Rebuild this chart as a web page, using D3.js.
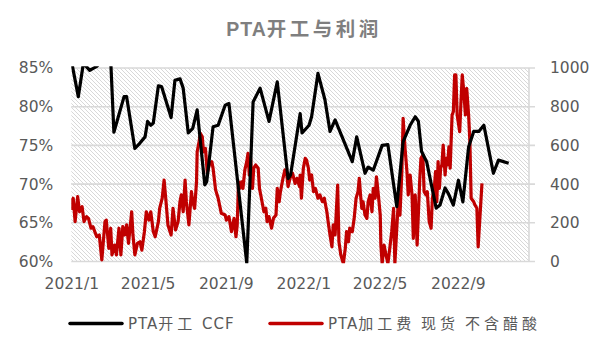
<!DOCTYPE html>
<html><head><meta charset="utf-8">
<script src="https://cdn.jsdelivr.net/npm/d3@7/dist/d3.min.js"></script>
<style>
html,body{margin:0;padding:0;background:#fff;}
svg{display:block;}
</style></head>
<body>
<svg id="c" width="612" height="353"></svg>
<script>
// ---- data ----
const opDates = ["2021-01-01","2021-01-12","2021-01-20","2021-01-30","2021-02-10","2021-02-24","2021-03-04","2021-03-09","2021-03-25","2021-03-29","2021-04-11","2021-04-19","2021-04-27","2021-05-01","2021-05-06","2021-05-10","2021-05-18","2021-05-23","2021-06-07","2021-06-13","2021-06-21","2021-06-26","2021-07-04","2021-07-11","2021-07-18","2021-07-30","2021-08-02","2021-08-12","2021-08-20","2021-08-31","2021-09-06","2021-10-04","2021-10-14","2021-10-25","2021-11-08","2021-11-21","2021-12-08","2021-12-12","2021-12-27","2021-12-30","2022-01-10","2022-01-14","2022-01-24","2022-02-04","2022-02-12","2022-02-20","2022-03-19","2022-03-26","2022-04-08","2022-04-13","2022-04-21","2022-05-05","2022-05-14","2022-05-28","2022-06-07","2022-06-18","2022-06-26","2022-07-01","2022-07-06","2022-07-14","2022-07-29","2022-08-04","2022-08-12","2022-08-17","2022-08-25","2022-09-02","2022-09-09","2022-09-18","2022-09-26","2022-10-04","2022-10-12","2022-10-27","2022-11-04","2022-11-20"];
const opValues = [86.0,81.3,85.6,84.7,85.2,86.5,86.0,76.7,81.3,81.3,74.6,75.3,76.1,78.1,77.6,77.9,82.7,82.6,78.6,83.4,83.6,82.4,76.6,77.2,79.6,69.9,70.3,77.4,77.6,80.2,80.4,59.8,80.6,82.4,78.1,83.2,70.7,71.2,79.1,76.6,77.6,78.7,84.3,80.9,76.8,78.3,72.9,76.1,71.4,72.2,71.8,75.0,75.1,67.1,75.5,77.6,78.7,78.1,74.2,72.9,66.9,67.3,69.5,68.8,67.3,70.5,67.7,74.8,76.8,76.8,77.6,71.4,73.1,72.7];

const feeDates = ["2021-01-01","2021-01-02","2021-01-04","2021-01-07","2021-01-11","2021-01-14","2021-01-18","2021-01-21","2021-01-25","2021-01-28","2021-02-01","2021-02-04","2021-02-10","2021-02-14","2021-02-18","2021-02-23","2021-02-25","2021-03-01","2021-03-04","2021-03-06","2021-03-10","2021-03-13","2021-03-17","2021-03-20","2021-03-23","2021-03-26","2021-03-29","2021-04-01","2021-04-06","2021-04-08","2021-04-11","2021-04-15","2021-04-19","2021-04-22","2021-04-26","2021-04-29","2021-05-03","2021-05-06","2021-05-10","2021-05-13","2021-05-18","2021-05-20","2021-05-24","2021-05-27","2021-05-30","2021-06-02","2021-06-07","2021-06-10","2021-06-14","2021-06-18","2021-06-21","2021-06-23","2021-06-26","2021-06-29","2021-07-01","2021-07-05","2021-07-09","2021-07-11","2021-07-14","2021-07-17","2021-07-18","2021-07-21","2021-07-23","2021-07-26","2021-07-28","2021-07-31","2021-08-03","2021-08-06","2021-08-10","2021-08-12","2021-08-16","2021-08-20","2021-08-25","2021-08-31","2021-09-02","2021-09-06","2021-09-10","2021-09-14","2021-09-17","2021-09-19","2021-09-21","2021-09-23","2021-09-26","2021-09-28","2021-10-01","2021-10-04","2021-10-06","2021-10-08","2021-10-10","2021-10-13","2021-10-15","2021-10-18","2021-10-22","2021-10-24","2021-10-27","2021-10-31","2021-11-03","2021-11-05","2021-11-08","2021-11-12","2021-11-15","2021-11-19","2021-11-21","2021-11-24","2021-11-26","2021-11-30","2021-12-03","2021-12-06","2021-12-08","2021-12-11","2021-12-15","2021-12-19","2021-12-22","2021-12-26","2021-12-27","2021-12-29","2022-01-01","2022-01-04","2022-01-06","2022-01-09","2022-01-11","2022-01-14","2022-01-17","2022-01-20","2022-01-24","2022-01-27","2022-01-31","2022-02-03","2022-02-07","2022-02-09","2022-02-12","2022-02-15","2022-02-17","2022-02-20","2022-02-24","2022-02-26","2022-03-01","2022-03-05","2022-03-08","2022-03-10","2022-03-13","2022-03-15","2022-03-19","2022-03-22","2022-03-25","2022-03-28","2022-03-30","2022-04-01","2022-04-03","2022-04-05","2022-04-08","2022-04-11","2022-04-13","2022-04-16","2022-04-19","2022-04-21","2022-04-24","2022-04-26","2022-04-29","2022-05-02","2022-05-03","2022-05-05","2022-05-08","2022-05-11","2022-05-14","2022-05-17","2022-05-20","2022-05-23","2022-05-25","2022-05-28","2022-05-31","2022-06-02","2022-06-05","2022-06-07","2022-06-10","2022-06-13","2022-06-15","2022-06-18","2022-06-21","2022-06-23","2022-06-26","2022-06-29","2022-07-03","2022-07-05","2022-07-08","2022-07-10","2022-07-13","2022-07-15","2022-07-18","2022-07-21","2022-07-23","2022-07-26","2022-07-28","2022-07-30","2022-08-01","2022-08-03","2022-08-05","2022-08-07","2022-08-09","2022-08-12","2022-08-14","2022-08-16","2022-08-18","2022-08-20","2022-08-23","2022-08-25","2022-08-27","2022-08-29","2022-08-31","2022-09-04","2022-09-06","2022-09-08","2022-09-10","2022-09-13","2022-09-15","2022-09-18","2022-09-20","2022-09-22","2022-09-26","2022-09-28","2022-10-01","2022-10-03","2022-10-06","2022-10-09"];
const feeValues = [327,275,327,206,335,257,283,206,232,223,172,180,128,137,8,206,214,68,172,34,85,34,172,34,180,137,189,94,257,137,34,94,102,59,154,257,214,257,154,128,206,275,327,421,309,189,137,275,163,206,310,344,257,421,309,189,361,309,275,412,567,619,662,645,567,585,456,499,516,482,370,327,249,240,214,232,154,223,128,189,412,378,412,378,473,516,559,447,533,378,482,499,482,378,327,257,275,206,232,172,223,240,378,309,361,430,473,447,387,430,456,404,430,387,447,327,482,533,525,482,421,447,361,378,327,344,309,327,257,206,137,76,189,137,395,102,34,-10,68,154,102,172,154,223,327,361,430,344,275,309,240,223,309,344,257,378,327,438,344,240,85,-10,85,34,-10,68,154,275,-10,172,344,240,464,740,585,464,344,447,344,120,344,85,412,533,550,361,344,361,206,172,327,378,464,309,516,378,482,499,602,447,533,499,593,482,757,774,964,964,757,671,826,964,895,757,895,757,619,327,309,292,275,76,240,404];

const leftTicks = [0.60,0.65,0.70,0.75,0.80,0.85];
const rightTicks = [0,200,400,600,800,1000];
const xTickDates = ["2021-01-01","2021-05-01","2021-09-01","2022-01-01","2022-05-01","2022-09-01"];
const xTickLabels = ["2021/1","2021/5","2021/9","2022/1","2022/5","2022/9"];
const titleText = "PTA开工与利润";
const seriesNames = ["PTA开工 CCF","PTA加工费 现货 不含醋酸"];
const seriesColors = ["#000000","#c00000"];

// ---- drawing ----
const parse = d3.timeParse("%Y-%m-%d");
const svg = d3.select("#c");
const L = 71.3, R = 529, T = 68, B = 261.5;
const x = d3.scaleTime().domain([parse("2021-01-01"), parse("2022-12-22")]).range([L, R]);
const yL = d3.scaleLinear().domain([0.60, 0.85]).range([B, T]);
const yR = d3.scaleLinear().domain([0, 1000]).range([B, T]);

const defs = svg.append("defs");
const pat = defs.append("pattern").attr("id","hatch").attr("patternUnits","userSpaceOnUse")
  .attr("width",4).attr("height",4);
pat.append("rect").attr("width",4).attr("height",4).attr("fill","#ffffff");
pat.append("path").attr("d","M-1,-1 L5,5 M-1,3 L1,5 M3,-1 L5,1")
  .attr("stroke","#d4d4d4").attr("stroke-width",0.9);
defs.append("clipPath").attr("id","clip").append("rect")
  .attr("x",L).attr("y",T-1.8).attr("width",R-L).attr("height",B-T+3.6);

// split text into CJK / non-CJK runs, CJK runs get wider spacing
function richText(sel, str, latinLS, cjkLS){
  const runs = str.match(/[\u3000-\u9fff]+|[^\u3000-\u9fff]+/g);
  runs.forEach(r=>{
    const cjk = /[\u3000-\u9fff]/.test(r);
    sel.append("tspan").attr("letter-spacing", cjk?cjkLS:latinLS).text(r);
  });
}

// title
const tt = svg.append("text").attr("x",304).attr("y",36).attr("text-anchor","middle")
  .attr("font-family","'Liberation Sans','Noto Sans CJK SC',sans-serif")
  .attr("font-weight","bold").attr("font-size",19.5)
  .attr("fill","#7f7f7f");
richText(tt, titleText, 1, 3.5);

// plot background
svg.append("rect").attr("x",L).attr("y",T).attr("width",R-L).attr("height",B-T).attr("fill","url(#hatch)");

// gridlines
svg.append("g").selectAll("line").data(rightTicks).join("line")
  .attr("x1",L).attr("x2",R+6).attr("y1",d=>yR(d)).attr("y2",d=>yR(d))
  .attr("stroke","#d9d9d9").attr("stroke-width",1.6);
// right axis line
svg.append("line").attr("x1",R).attr("x2",R).attr("y1",T).attr("y2",B)
  .attr("stroke","#d9d9d9").attr("stroke-width",1.6);

const axisFont = "'DejaVu Sans',sans-serif";
// left axis labels
const gl = svg.append("g").attr("transform",`translate(${L-18},0)`)
  .call(d3.axisLeft(yL).tickValues(leftTicks).tickSize(0).tickPadding(0).tickFormat(d3.format(".0%")));
gl.select(".domain").remove();
gl.selectAll("text").attr("font-family",axisFont).attr("font-size",15.5).attr("fill","#595959");

// right axis labels
const gr = svg.append("g").attr("transform",`translate(${R+21},0)`)
  .call(d3.axisRight(yR).tickValues(rightTicks).tickSize(0).tickPadding(0).tickFormat(d3.format("d")));
gr.select(".domain").remove();
gr.selectAll("text").attr("font-family",axisFont).attr("font-size",15.5).attr("fill","#595959");

// x axis labels
const gx = svg.append("g").attr("transform",`translate(0,${B})`)
  .call(d3.axisBottom(x).tickValues(xTickDates.map(parse)).tickSize(0).tickPadding(16)
    .tickFormat((d,i)=>xTickLabels[i]));
gx.select(".domain").remove();
gx.selectAll("text").attr("font-family",axisFont).attr("font-size",15.5).attr("fill","#595959");

// series
const plot = svg.append("g").attr("clip-path","url(#clip)");
const opData = opDates.map((d,i)=>({date:parse(d), v:opValues[i]/100}));
const feeData = feeDates.map((d,i)=>({date:parse(d), v:feeValues[i]}));
plot.append("path").datum(feeData)
  .attr("d", d3.line().x(d=>x(d.date)).y(d=>yR(d.v)))
  .attr("fill","none").attr("stroke",seriesColors[1]).attr("stroke-width",3.2)
  .attr("stroke-linejoin","round");
plot.append("path").datum(opData)
  .attr("d", d3.line().x(d=>x(d.date)).y(d=>yL(d.v)))
  .attr("fill","none").attr("stroke",seriesColors[0]).attr("stroke-width",3.2)
  .attr("stroke-linejoin","round");

// legend
const legX = [70, 270];
const lg = svg.append("g");
seriesNames.forEach((name,i)=>{
  lg.append("line").attr("x1",legX[i]).attr("x2",legX[i]+52).attr("y1",323.5).attr("y2",323.5)
    .attr("stroke",seriesColors[i]).attr("stroke-width",3.5).attr("stroke-linecap","round");
  const t = lg.append("text").attr("x",legX[i]+58).attr("y",329)
    .attr("font-family","'DejaVu Sans','Noto Sans CJK SC',sans-serif").attr("font-size",15)
    .attr("fill","#595959");
  richText(t, name, 1, 4);
});
</script>
</body></html>
